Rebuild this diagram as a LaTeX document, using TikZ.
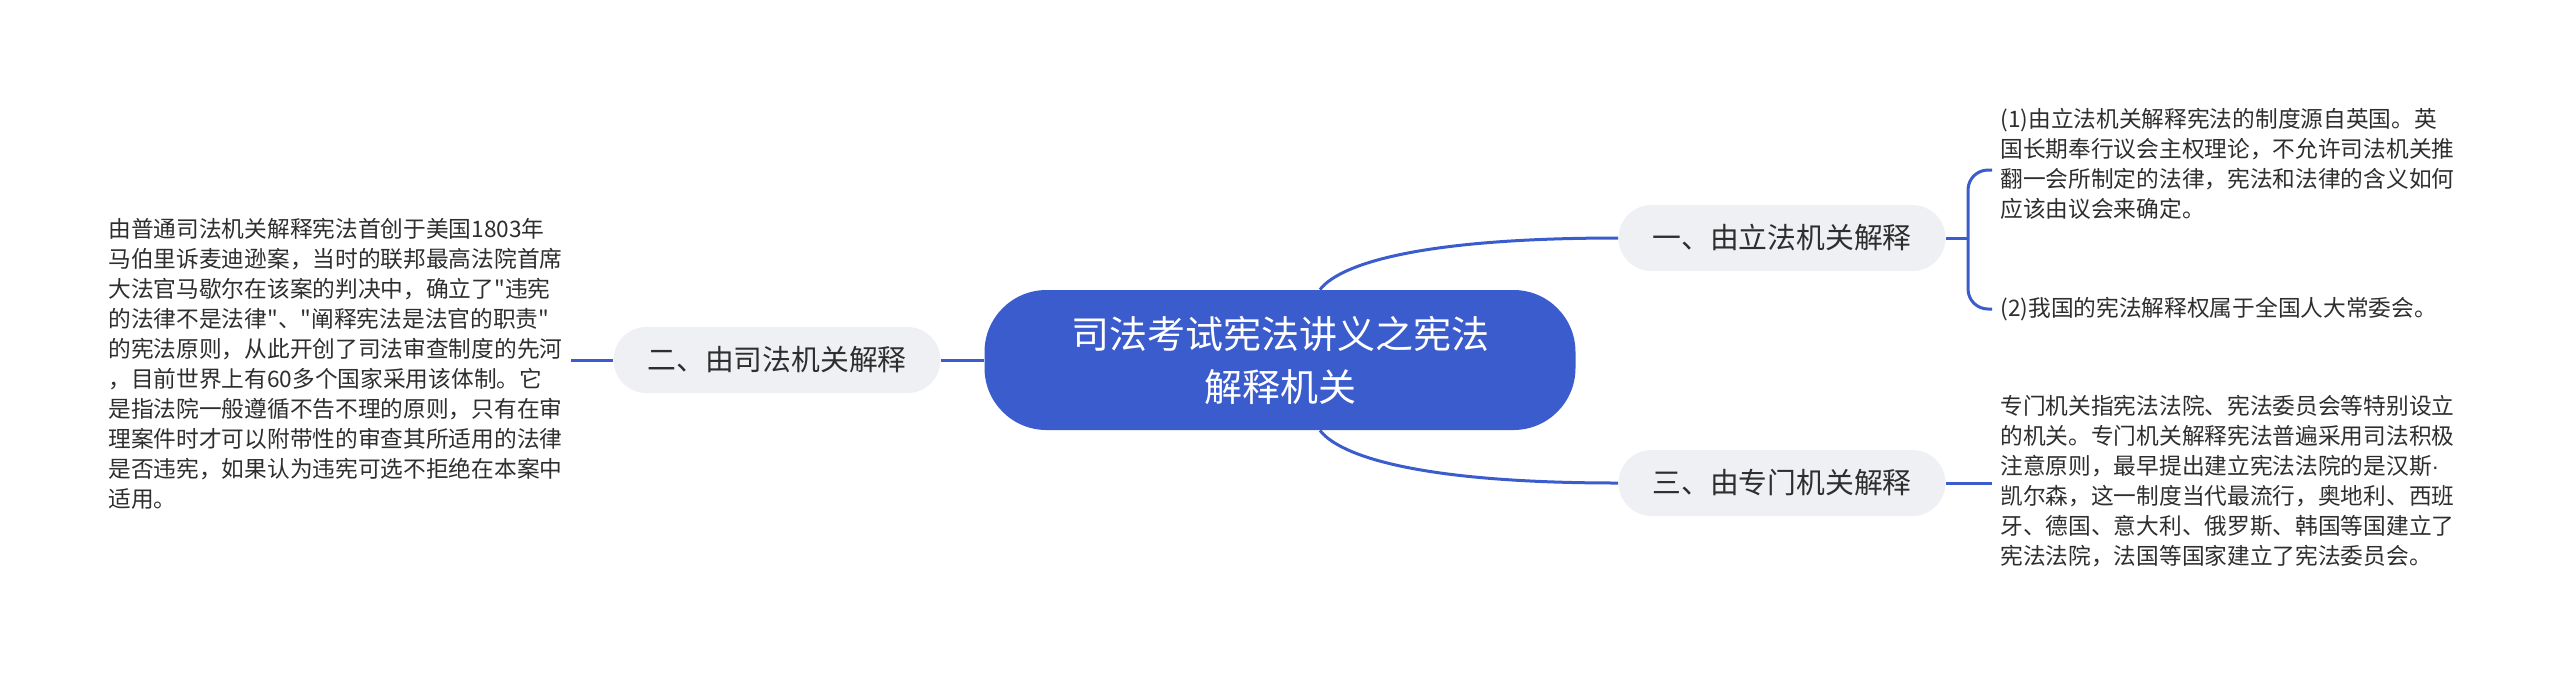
\documentclass[tikz,border=0pt]{standalone}
\usepackage{fontspec}
\setmainfont{Noto Sans CJK SC}[Ligatures=TeXOff]
\newfontfamily\dotfont{Liberation Sans}
\definecolor{mapblue}{HTML}{3B5CCC}
\definecolor{topicgrey}{HTML}{EEF0F4}
\definecolor{inktext}{HTML}{2E2E2E}
\begin{document}
\begin{tikzpicture}[x=0.5pt, y=-0.5pt,
        centre/.style={fill=mapblue, text=white, rounded corners=31pt, minimum width=295.5pt,
            minimum height=70pt, align=center, font=\fontsize{19}{26.5}\selectfont},
        topic/.style={fill=topicgrey, text=inktext, rounded corners=16.5pt, minimum width=163.5pt,
            minimum height=33pt, font=\fontsize{14.4}{18}\selectfont},
        leaf/.style={text=inktext, align=left, inner sep=4pt, font=\fontsize{11.35}{15}\selectfont},
        link/.style={draw=mapblue, line width=1.5pt}]
            \useasboundingbox (0, 0) rectangle (2560, 677);
            \node[centre] (root) at (1280, 360) {司法考试宪法讲义之宪法\\解释机关};
            \node[topic] (legis) at (1782, 238) {一、由立法机关解释};
            \node[topic] (judic) at (777, 360) {二、由司法机关解释};
            \node[topic] (special) at (1782, 483) {三、由专门机关解释};
            \node[leaf, anchor=west] (judicnote) at (100, 364) {由普通司法机关解释宪法首创于美国1803年\\
                马伯里诉麦迪逊案，当时的联邦最高法院首席\\
                大法官马歇尔在该案的判决中，确立了"违宪\\
                的法律不是法律"、"阐释宪法是法官的职责"\\
                的宪法原则，从此开创了司法审查制度的先河\\
                ，目前世界上有60多个国家采用该体制。它\\
                是指法院一般遵循不告不理的原则，只有在审\\
                理案件时才可以附带性的审查其所适用的法律\\
                是否违宪，如果认为违宪可选不拒绝在本案中\\
                适用。};
            \node[leaf, anchor=west] (legisone) at (1992, 164) {(1)由立法机关解释宪法的制度源自英国。英\\
                国长期奉行议会主权理论，不允许司法机关推\\
                翻一会所制定的法律，宪法和法律的含义如何\\
                应该由议会来确定。};
            \node[leaf, anchor=west] (legistwo) at (1992, 309) {(2)我国的宪法解释权属于全国人大常委会。};
            \node[leaf, anchor=west] (specialnote) at (1992, 481) {专门机关指宪法法院、宪法委员会等特别设立\\
                的机关。专门机关解释宪法普遍采用司法积极\\
                注意原则，最早提出建立宪法法院的是汉斯{\dotfont ·}\\
                凯尔森，这一制度当代最流行，奥地利、西班\\
                牙、德国、意大利、俄罗斯、韩国等国建立了\\
                宪法法院，法国等国家建立了宪法委员会。};
            \coordinate (legisfork) at (1968, 238);
            \begin{scope}[link]
                \draw (root.west) -- (judic.east);
                \draw (judic.west) -- (judic.west -| judicnote.east);
                \draw ([xshift=20pt]root.north) .. controls +(15, -20) and +(-220, 0) .. (legis.west);
                \draw ([xshift=20pt]root.south) .. controls +(15, 20) and +(-220, 0) .. (special.west);
                \draw (legis.east) -- (legisfork);
                \draw[rounded corners=10pt] (legisfork) |- ([yshift=-3pt]legisone.west);
                \draw[rounded corners=10pt] (legisfork) |- (legistwo.west);
                \draw (special.east) -- (special.east -| specialnote.west);
            \end{scope}
        \end{tikzpicture}
\end{document}
